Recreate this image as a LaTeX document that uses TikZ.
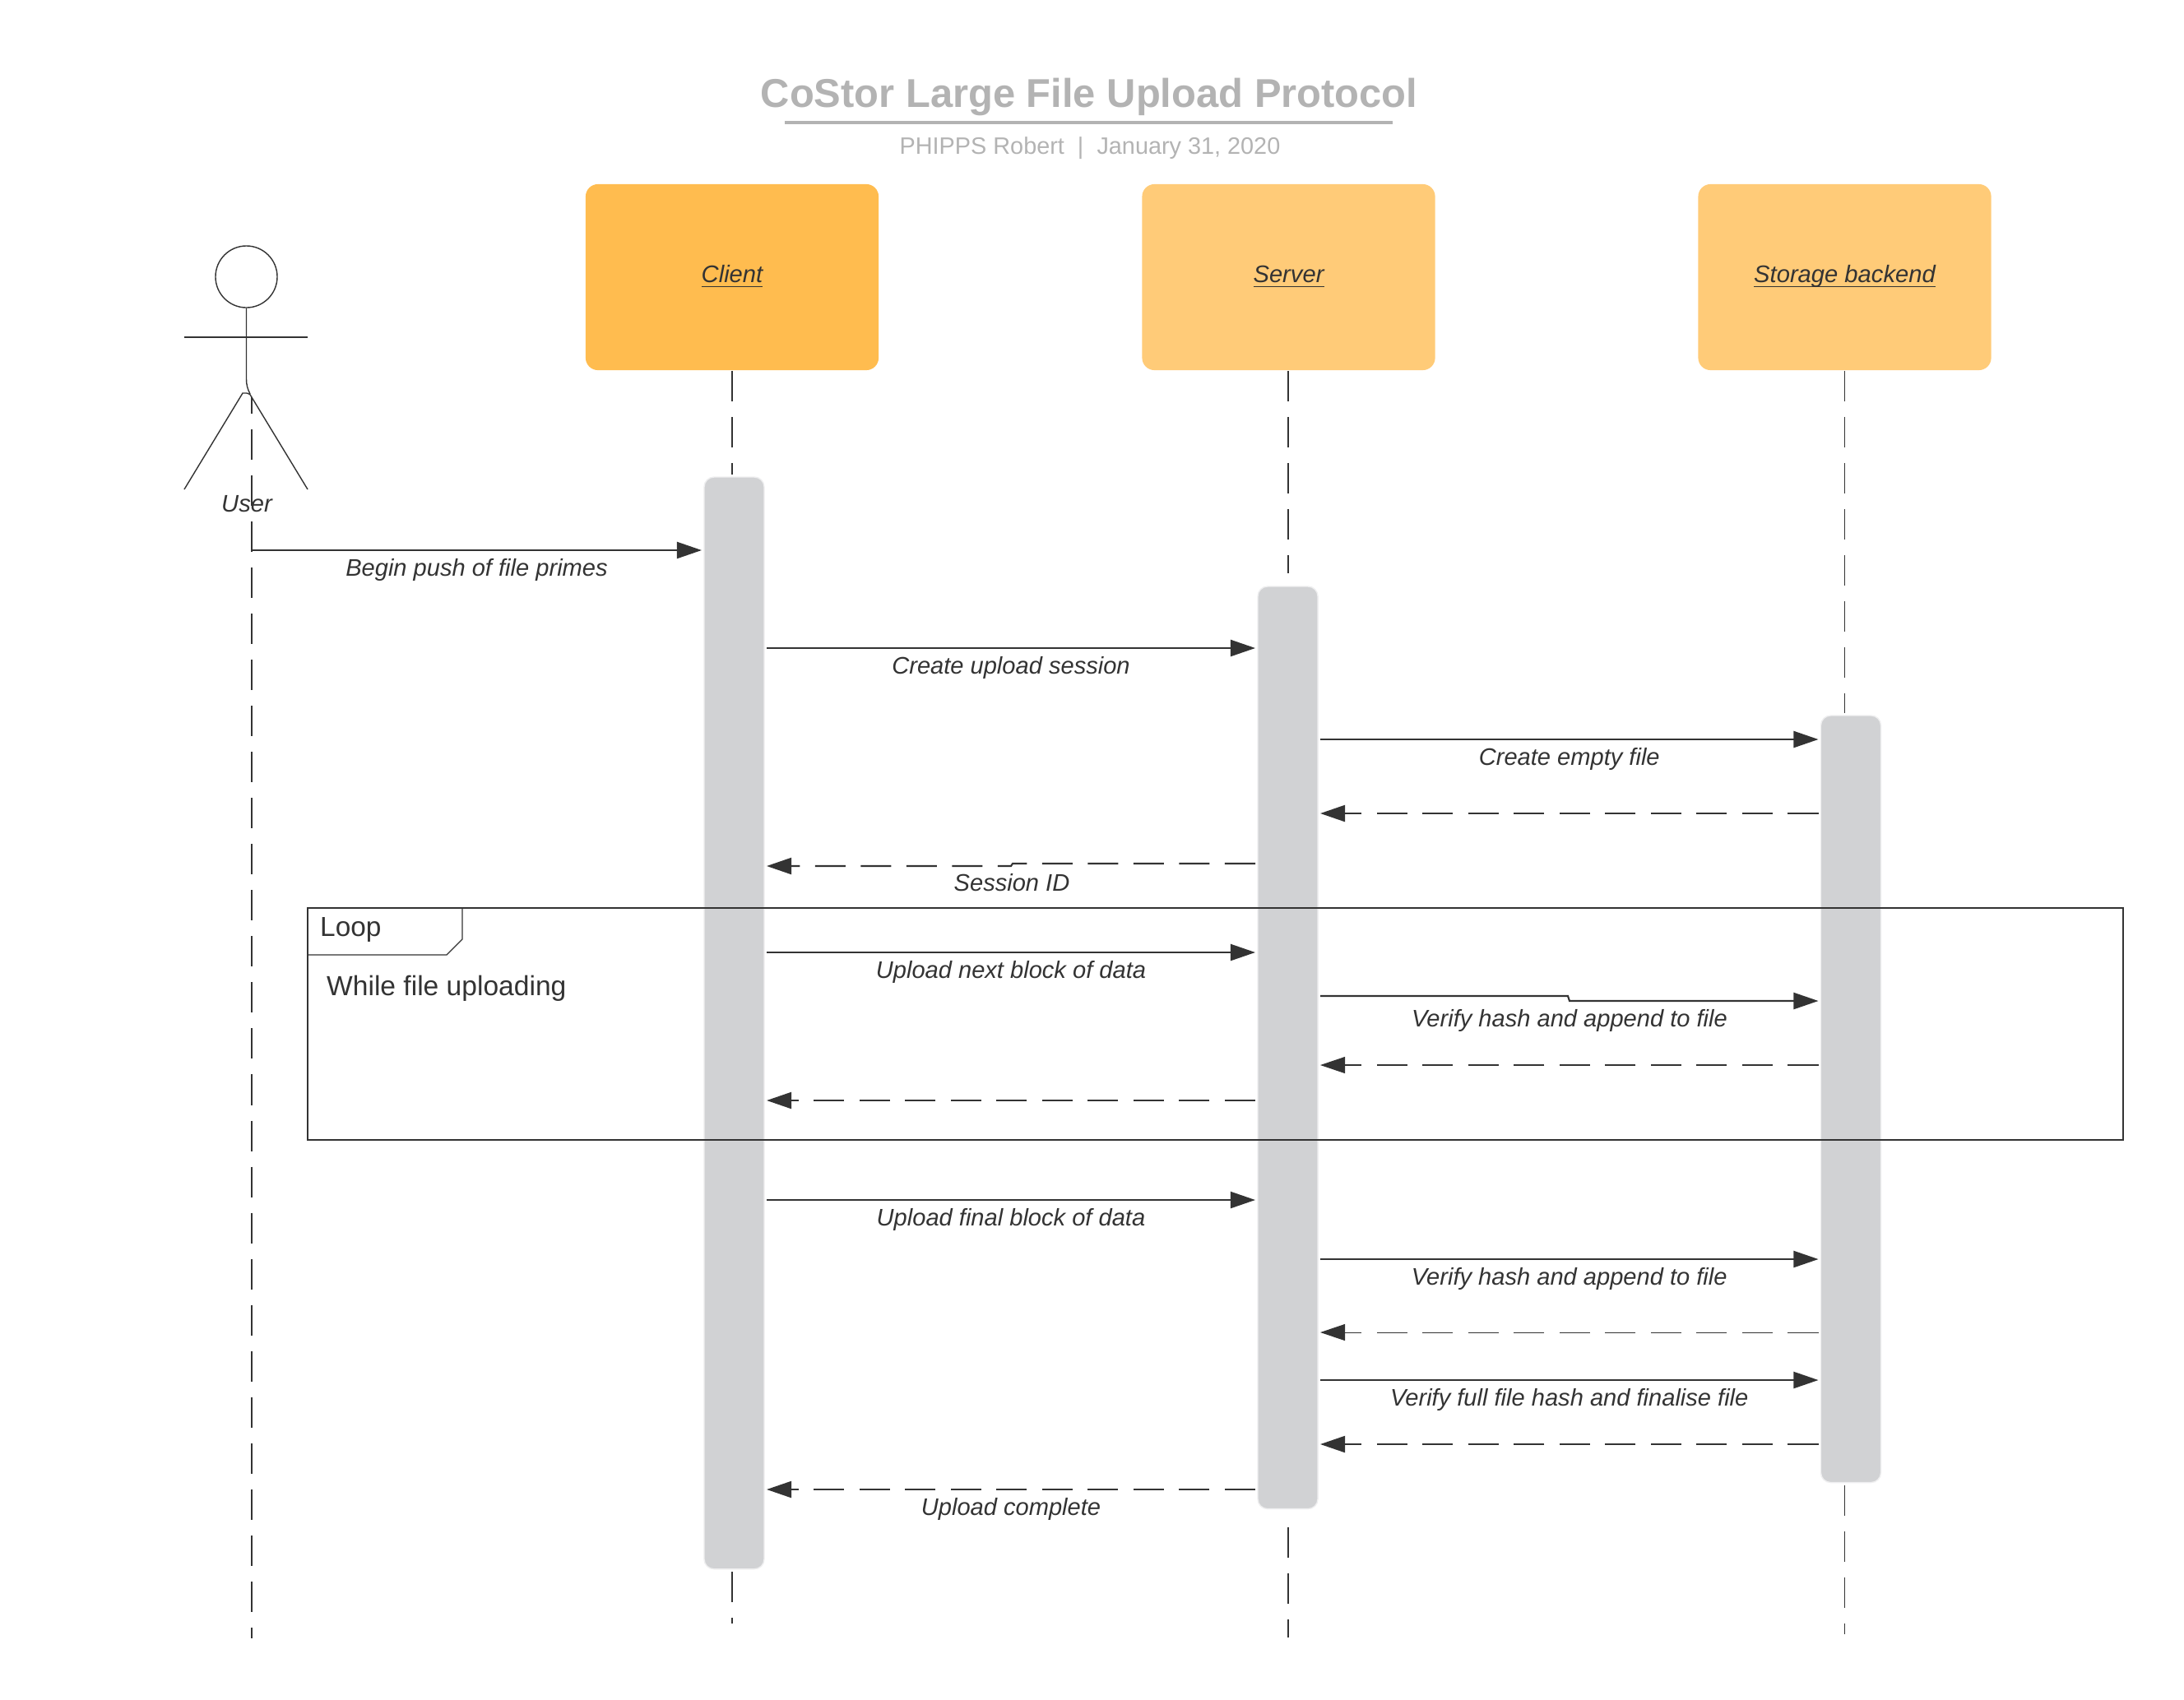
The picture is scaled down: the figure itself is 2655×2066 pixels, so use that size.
\documentclass[tikz,border=0pt]{standalone}
\usepackage{fontspec}
\setmainfont{Liberation Sans}
\usetikzlibrary{arrows.meta}

\definecolor{inkdark}{HTML}{333333}
\definecolor{titlegray}{HTML}{B3B3B3}
\definecolor{clientfill}{HTML}{FFBC4F}
\definecolor{peerfill}{HTML}{FFCB78}
\definecolor{barfill}{HTML}{D1D2D4}
\newcommand{\lanename}[1]{\underline{\smash{#1}}}

\tikzset{
  lane/.style={rounded corners=0.15cm,minimum width=3.56cm,minimum height=2.26cm,inner sep=0pt,
    text=inkdark,font=\fontsize{8.3}{10}\selectfont\itshape,text height=1.6mm,text depth=0.3mm},
  bar/.style={rounded corners=0.12cm,minimum width=0.73cm,inner sep=0pt,outer sep=0.03cm,
    fill=barfill,draw=barfill!35!white,line width=0.4pt,anchor=north},
  lifeline/.style={inkdark,line width=0.45pt,dash pattern=on 0.37cm off 0.19cm},
  msg/.style={inkdark,line width=0.6pt,-{Triangle[length=0.3cm,width=0.2cm]}},
  reply/.style={msg,dash pattern=on 0.37cm off 0.185cm},
  thinreply/.style={reply,line width=0.3pt},
  msgtext/.style={text=inkdark,font=\fontsize{8.27}{10}\selectfont\itshape,inner sep=0pt,
    text height=1.6mm,text depth=0.5mm},
  msglabel/.style={msgtext,midway,yshift=-0.26cm},
}

\begin{document}
\begin{tikzpicture}[x=0.01cm,y=-0.01cm]
  \useasboundingbox (0,0) rectangle (2655,2066);

  % heading
  \node[font=\fontsize{13.9}{16}\selectfont\bfseries,text=titlegray] (title) at (1324,118) {CoStor Large File Upload Protocol};
  \node[font=\fontsize{8.2}{10}\selectfont,text=titlegray] (subtitle) at (1325,180) {PHIPPS Robert\ \ |\ \ January 31, 2020};
  \draw[titlegray,line width=1pt] (954,149) -- (1693,149);

  % lanes
  \node[lane,fill=clientfill] (client) at (890,337) {\lanename{Client}};
  \node[lane,fill=peerfill] (server) at (1566.5,337) {\lanename{Server}};
  \node[lane,fill=peerfill] (storage) at (2242.5,337) {\lanename{Storage backend}};

  % lifelines
  \coordinate (userline) at (306,483);
  \coordinate (userend) at (306,1992);
  \coordinate (clientend) at (890,1974);
  \coordinate (serverend) at (1566,1991);
  \coordinate (storageend) at (2242,1987);
  \draw[lifeline,line width=0.55pt,dash phase=0.17cm] (userline) -- (userend);

  % activation bars
  \node[bar,minimum height=13.27cm] (clientbar) at (892.5,577) {};
  \node[bar,minimum height=11.21cm] (serverbar) at (1565.5,710) {};
  \node[bar,minimum height=9.32cm] (storagebar) at (2250,867) {};

  \draw[lifeline] (client.south) -- (clientbar.north -| client.south);
  \draw[lifeline] (clientbar.south -| client.south) -- (clientend);
  \draw[lifeline,line width=0.55pt] (serverend |- server.south) -- (serverend |- 0,697);
  \draw[lifeline,line width=0.55pt] (serverbar.south -| serverend) ++(0,19) -- (serverend);
  \draw[lifeline,line width=0.25pt] (storageend |- storage.south) -- (storagebar.north -| storageend);
  \draw[lifeline,line width=0.25pt] (storagebar.south -| storageend) -- (storageend);

  % loop frame runs over the bars
  \draw[inkdark,line width=0.35pt] (374,1104) rectangle (2581,1386);
  \draw[inkdark,line width=0.35pt] (562,1104) -- (562,1142) -- (543,1161) -- (374,1161);
  \node[anchor=west,inner sep=0pt,text=inkdark,font=\fontsize{9.5}{11}\selectfont] (looptag) at (388.5,1130) {Loop};
  \node[anchor=west,inner sep=0pt,text=inkdark,font=\fontsize{9.55}{11}\selectfont] (loopguard) at (396.5,1202) {While file uploading};

  % user
  \node[circle,draw=inkdark,line width=0.4pt,minimum size=0.75cm,inner sep=0pt] (userhead) at (299.5,336.5) {};
  \draw[inkdark,line width=0.4pt] (userhead.south) -- (299.5,461) .. controls (299.5,468) and (301,473) .. (304,479);
  \draw[inkdark,line width=0.4pt] (224,410) -- (374,410);
  \draw[inkdark,line width=0.4pt] (224,595) -- (295,478) -- (300,478) .. controls (303,478) and (305,480) .. (306,483) -- (374,595);
  \node[text=inkdark,font=\fontsize{8.3}{10}\selectfont\itshape,inner sep=0pt] (user) at (300,613) {User};

  % calls and replies
  \draw[msg] (userline |- 0,669) -- (clientbar.west |- 0,669) node[msglabel] (beginlabel) {Begin push of file primes};
  \foreach \from/\to/\y/\txt [count=\i] in {
    clientbar.east/serverbar.west/788/Create upload session,
    serverbar.east/storagebar.west/899/Create empty file,
    clientbar.east/serverbar.west/1158/Upload next block of data,
    clientbar.east/serverbar.west/1459/Upload final block of data,
    serverbar.east/storagebar.west/1531/Verify hash and append to file,
    serverbar.east/storagebar.west/1678/Verify full file hash and finalise file} {
    \draw[msg] (\from |- 0,\y) -- (\to |- 0,\y) node[msglabel] (calllabel\i) {\txt};
  }
  \draw[msg] (serverbar.east |- 0,1211) -- (1906,1211) -- (1908,1217) -- (storagebar.west |- 0,1217);
  \node[msgtext] (verifylabel) at (1908,1243) {Verify hash and append to file};

  \draw[reply] (serverbar.west |- 0,1050) -- (1231,1050) -- (1229,1053) -- (clientbar.east |- 0,1053);
  \node[msgtext] (sessionlabel) at (1230,1078) {Session ID};
  \draw[reply] (storagebar.west |- 0,989) -- (serverbar.east |- 0,989);
  \draw[reply] (serverbar.west |- 0,1338) -- (clientbar.east |- 0,1338);
  \draw[reply] (storagebar.west |- 0,1756) -- (serverbar.east |- 0,1756);
  \draw[thinreply] (storagebar.west |- 0,1295) -- (serverbar.east |- 0,1295);
  \draw[thinreply] (storagebar.west |- 0,1620) -- (serverbar.east |- 0,1620);
  \draw[reply] (serverbar.west |- 0,1811) -- (clientbar.east |- 0,1811) node[msglabel] (donelabel) {Upload complete};
\end{tikzpicture}
\end{document}
